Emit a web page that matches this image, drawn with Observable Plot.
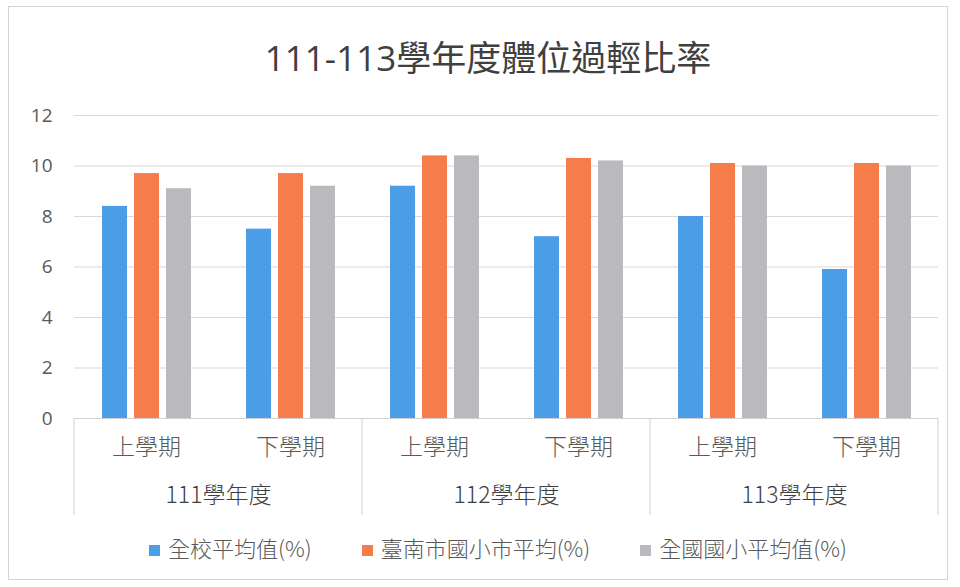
<!DOCTYPE html>
<html><head><meta charset="utf-8">
<script src="https://cdn.jsdelivr.net/npm/d3@7"></script>
<script src="https://cdn.jsdelivr.net/npm/@observablehq/plot@0.6"></script>
<style>
body{margin:0;background:#fff;}
#wrap{position:relative;width:960px;height:587px;overflow:hidden;font-family:"Open Sans","Noto Sans CJK TC",sans-serif;}
#border{position:absolute;left:8px;top:6px;width:940px;height:574px;border:1px solid #d4d4d4;box-sizing:border-box;pointer-events:none;}
#title{text-align:center;font-size:35px;color:#404040;padding-top:38px;height:57px;line-height:40px;padding-left:16px;box-sizing:content-box;}
#legend{display:flex;justify-content:center;gap:50px;font-size:22px;color:#595959;margin-top:9px;line-height:26px;padding-left:36px;font-family:"Noto Sans CJK TC",sans-serif;font-weight:300;}
#legend span.sw{display:inline-block;width:11px;height:11px;margin-right:8px;vertical-align:middle;position:relative;top:-1px;}
</style></head>
<body>
<div id="wrap">
<div id="border"></div>
<div id="title">111-113學年度體位過輕比率</div>
<div id="chart"></div>
<div id="legend"></div>
</div>
<script>
const years = ["111學年度", "112學年度", "113學年度"];
const semesters = ["上學期", "下學期"];
const series = ["全校平均值(%)", "臺南市國小市平均(%)", "全國國小平均值(%)"];
const school = [8.4, 7.5, 9.2, 7.2, 8.0, 5.9];
const city = [9.7, 9.7, 10.4, 10.3, 10.1, 10.1];
const nation = [9.1, 9.2, 10.4, 10.2, 10.0, 10.0];
const yTicks = [0, 2, 4, 6, 8, 10, 12];
const colors = ["#4a9de6", "#f47d4a", "#b9b9be"];

const keys = [];
const rows = [];
const yearRows = [];
years.forEach((yr, i) => {
  semesters.forEach((sem, j) => {
    const k = i * 2 + j;
    const key = yr + "|" + sem;
    keys.push(key);
    [school, city, nation].forEach((arr, s) => {
      rows.push({key, year: yr, semester: sem, series: series[s], value: arr[k]});
    });
    if (j === 0) yearRows.push({key, year: yr});
  });
});

const chart = Plot.plot({
  width: 960,
  height: 430,
  marginLeft: 72,
  marginRight: 20,
  marginTop: 20,
  marginBottom: 107,
  style: {fontFamily: "'Open Sans','Noto Sans CJK TC',sans-serif", background: "transparent"},
  fx: {domain: keys, padding: 0, label: null, axis: null},
  x: {domain: series, paddingInner: 0.22, paddingOuter: 0.8, axis: null},
  y: {domain: [0, 12], label: null, axis: null},
  color: {domain: series, range: colors},
  marks: [
    Plot.gridY(yTicks, {stroke: "#d9d9d9", strokeOpacity: 1}),
    Plot.axisY(yTicks, {tickSize: 0, tickPadding: 22, fontSize: 19, fill: "#595959", label: null}),
    Plot.barY(rows, {fx: "key", x: "series", y: "value", fill: "series"}),
    Plot.ruleY([0], {stroke: "#d0d0d0"}),
    Plot.axisFx({anchor: "bottom", tickFormat: k => k.split("|")[1], tickSize: 0, tickPadding: 20, fontSize: 23, fill: "#595959", label: null, fontFamily: "'Noto Sans CJK TC',sans-serif", fontWeight: 300}),
    Plot.text(yearRows, {fx: "key", text: "year", frameAnchor: "bottom-right", textAnchor: "middle", lineAnchor: "middle", dy: 77, fontSize: 23, fill: "#404040", fontFamily: "'Noto Sans CJK TC',sans-serif", fontWeight: 300})
  ]
});
document.getElementById("chart").appendChild(chart);

// group separators from the fx and y scales
const fxs = Plot.scale({fx: chart.scale("fx")});
const ys = Plot.scale({y: chart.scale("y")});
const bw = fxs.bandwidth;
const edges = [fxs.apply(keys[0]), fxs.apply(keys[2]), fxs.apply(keys[4]), fxs.apply(keys[5]) + bw];
const y0 = ys.apply(0);
d3.select(chart).append("g")
  .selectAll("line").data(edges).join("line")
  .attr("x1", d => d).attr("x2", d => d)
  .attr("y1", y0).attr("y2", y0 + 97)
  .attr("stroke", "#d0d0d0");

const legend = document.getElementById("legend");
series.forEach((s, i) => {
  const item = document.createElement("div");
  item.innerHTML = `<span class="sw" style="background:${colors[i]}"></span>${s}`;
  legend.appendChild(item);
});
</script>
</body></html>
